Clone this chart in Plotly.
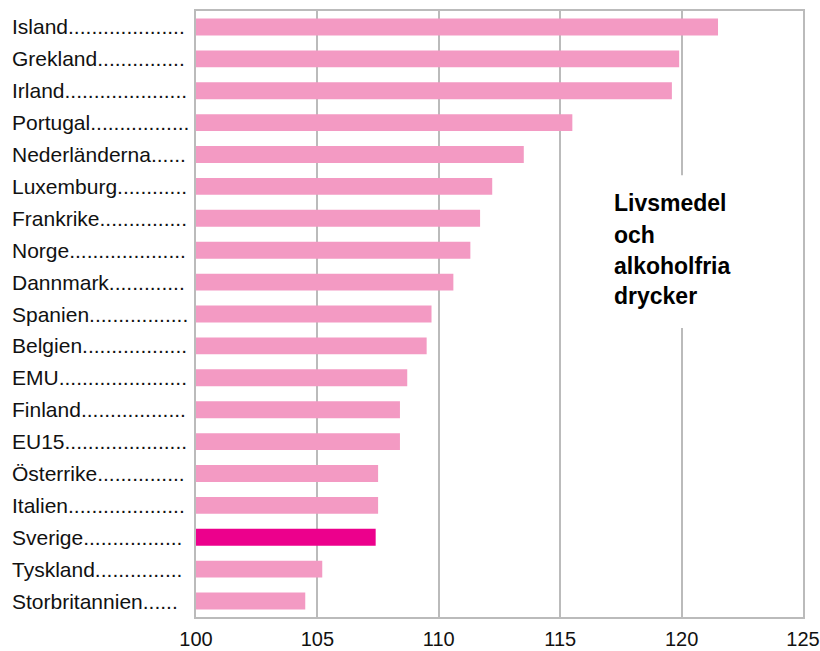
import plotly.graph_objects as go

# Länder, uppifrån och ned (som i bilden)
countries = [
    "Island", "Grekland", "Irland", "Portugal", "Nederländerna", "Luxemburg",
    "Frankrike", "Norge", "Dannmark", "Spanien", "Belgien", "EMU", "Finland",
    "EU15", "Österrike", "Italien", "Sverige", "Tyskland", "Storbritannien",
]
values = [
    121.5, 119.9, 119.6, 115.5, 113.5, 112.2,
    111.7, 111.3, 110.6, 109.7, 109.5, 108.7, 108.4,
    108.4, 107.5, 107.5, 107.4, 105.2, 104.5,
]
dot_counts = [20, 15, 21, 17, 6, 12, 15, 20, 13, 17, 18, 22, 18, 21, 15, 20, 17, 15, 6]
highlight = "Sverige"
x_ticks = [100, 105, 110, 115, 120, 125]
note_lines = ["Livsmedel", "och", "alkoholfria", "drycker"]

PINK = "#F39AC3"
MAGENTA = "#EC008C"
GRID = "#BBBBBB"
FONT = "Liberation Sans, Arial, Helvetica, sans-serif"

colors = [MAGENTA if c == highlight else PINK for c in countries]

fig = go.Figure(
    go.Bar(
        x=[v - 100 for v in values],
        y=countries,
        orientation="h",
        base=100,
        marker=dict(color=colors, line_width=0),
        width=0.53,
    )
)

fig.update_xaxes(
    range=[100, 125],
    tickvals=x_ticks,
    showgrid=True,
    gridcolor=GRID,
    gridwidth=2,
    showline=True,
    linecolor=GRID,
    linewidth=2,
    mirror=True,
    zeroline=False,
    ticks="",
    ticklabelstandoff=3,
    automargin=False,
    tickfont=dict(size=20, color="#111111", family=FONT),
)
fig.update_yaxes(
    categoryorder="array",
    categoryarray=countries,
    showticklabels=False,
    showgrid=False,
    showline=True,
    linecolor=GRID,
    linewidth=2,
    mirror=True,
    automargin=False,
    range=[len(countries) - 0.5, -0.5],
)

# vänsterjusterade etiketter med punktledare
for name, n in zip(countries, dot_counts):
    fig.add_annotation(
        x=-0.307, xref="paper", y=name, yref="y",
        text=name + "." * n,
        showarrow=False, xanchor="left", yanchor="middle",
        font=dict(size=21, color="#111111", family=FONT),
    )

# vit ruta bakom textblocket (bryter stödlinjen vid 120)
fig.add_shape(
    type="rect", xref="x", yref="paper",
    x0=117.5, x1=123.5, y0=0.477, y1=0.729,
    fillcolor="white", line_width=0, layer="above",
)
note_y = [0.683, 0.630, 0.579, 0.530]
for line, yy in zip(note_lines, note_y):
    fig.add_annotation(
        x=117.12, xref="x", y=yy, yref="paper",
        text="<b>" + line + "</b>",
        showarrow=False, xanchor="left", yanchor="middle",
        font=dict(size=23, color="#000000", family=FONT),
    )

fig.update_layout(
    width=820,
    height=651,
    margin=dict(l=196, r=17, t=11, b=34),
    plot_bgcolor="white",
    paper_bgcolor="white",
    showlegend=False,
)

# ta bort sidans standardmarginal så att figuren fyller fönstret
fig.write_html(
    "out.html",
    config={"displayModeBar": False},
    post_script="document.body.style.margin='0';",
)
